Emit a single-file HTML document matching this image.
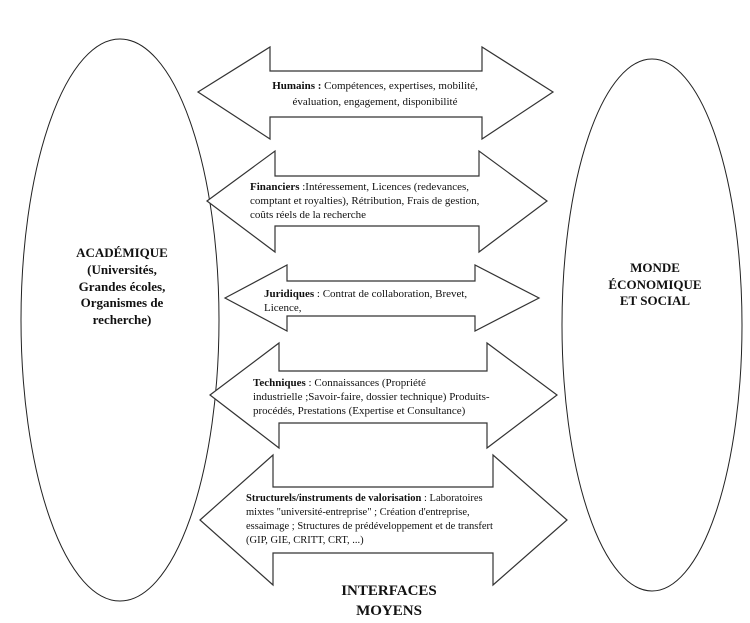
<!DOCTYPE html>
<html><head><meta charset="utf-8"><style>
html,body{margin:0;padding:0;background:#fff;}
svg{display:block;}
text{font-family:"Liberation Serif",serif;fill:#111;}
</style></head><body>
<svg width="750" height="623" viewBox="0 0 750 623" xmlns="http://www.w3.org/2000/svg">
<g fill="none" stroke="#222" stroke-width="1">
<ellipse cx="120" cy="320" rx="99" ry="281"/>
<ellipse cx="652" cy="325" rx="90" ry="266"/>
</g>
<g fill="#fff" stroke="#333" stroke-width="1.2">
<polygon points="198,92 270,47 270,71 482,71 482,47 553,92 482,139 482,117 270,117 270,139"/>
<polygon points="207,201 275,151 275,176 479,176 479,151 547,201 479,252 479,226 275,226 275,252"/>
<polygon points="225,298 287,265 287,281 475,281 475,265 539,298 475,331 475,316 287,316 287,331"/>
<polygon points="210,395 279,343 279,371 487,371 487,343 557,395 487,448 487,423 279,423 279,448"/>
<polygon points="200,520 273,455 273,487 493,487 493,455 567,520 493,585 493,553 273,553 273,585"/>
</g>
<g font-size="11">
<text x="375" y="89" text-anchor="middle"><tspan font-weight="bold">Humains :</tspan> Compétences, expertises, mobilité,</text>
<text x="375" y="105" text-anchor="middle">évaluation, engagement, disponibilité</text>
<text x="250" y="190"><tspan font-weight="bold">Financiers</tspan> :Intéressement, Licences (redevances,</text>
<text x="250" y="204">comptant et royalties), Rétribution, Frais de gestion,</text>
<text x="250" y="218">coûts réels de la recherche</text>
<text x="264" y="297"><tspan font-weight="bold">Juridiques</tspan> : Contrat de collaboration, Brevet,</text>
<text x="264" y="311">Licence,</text>
<text x="253" y="386"><tspan font-weight="bold">Techniques</tspan> : Connaissances (Propriété</text>
<text x="253" y="400">industrielle ;Savoir-faire, dossier technique) Produits-</text>
<text x="253" y="414">procédés, Prestations (Expertise et Consultance)</text>
<text x="246" y="501" font-size="10.5"><tspan font-weight="bold">Structurels/instruments de valorisation</tspan> : Laboratoires</text>
<text x="246" y="515" font-size="10.5">mixtes "université-entreprise" ; Création d'entreprise,</text>
<text x="246" y="529" font-size="10.5">essaimage ; Structures de prédéveloppement et de transfert</text>
<text x="246" y="543" font-size="10.5">(GIP, GIE, CRITT, CRT, ...)</text>
</g>
<g font-size="13" font-weight="bold" text-anchor="middle">
<text x="122" y="257">ACADÉMIQUE</text>
<text x="122" y="274">(Universités,</text>
<text x="122" y="291">Grandes écoles,</text>
<text x="122" y="307">Organismes de</text>
<text x="122" y="324">recherche)</text>
<text x="655" y="272">MONDE</text>
<text x="655" y="289">ÉCONOMIQUE</text>
<text x="655" y="305">ET SOCIAL</text>
</g>
<g font-size="15" font-weight="bold" text-anchor="middle">
<text x="389" y="595">INTERFACES</text>
<text x="389" y="615">MOYENS</text>
</g>
</svg>
</body></html>
